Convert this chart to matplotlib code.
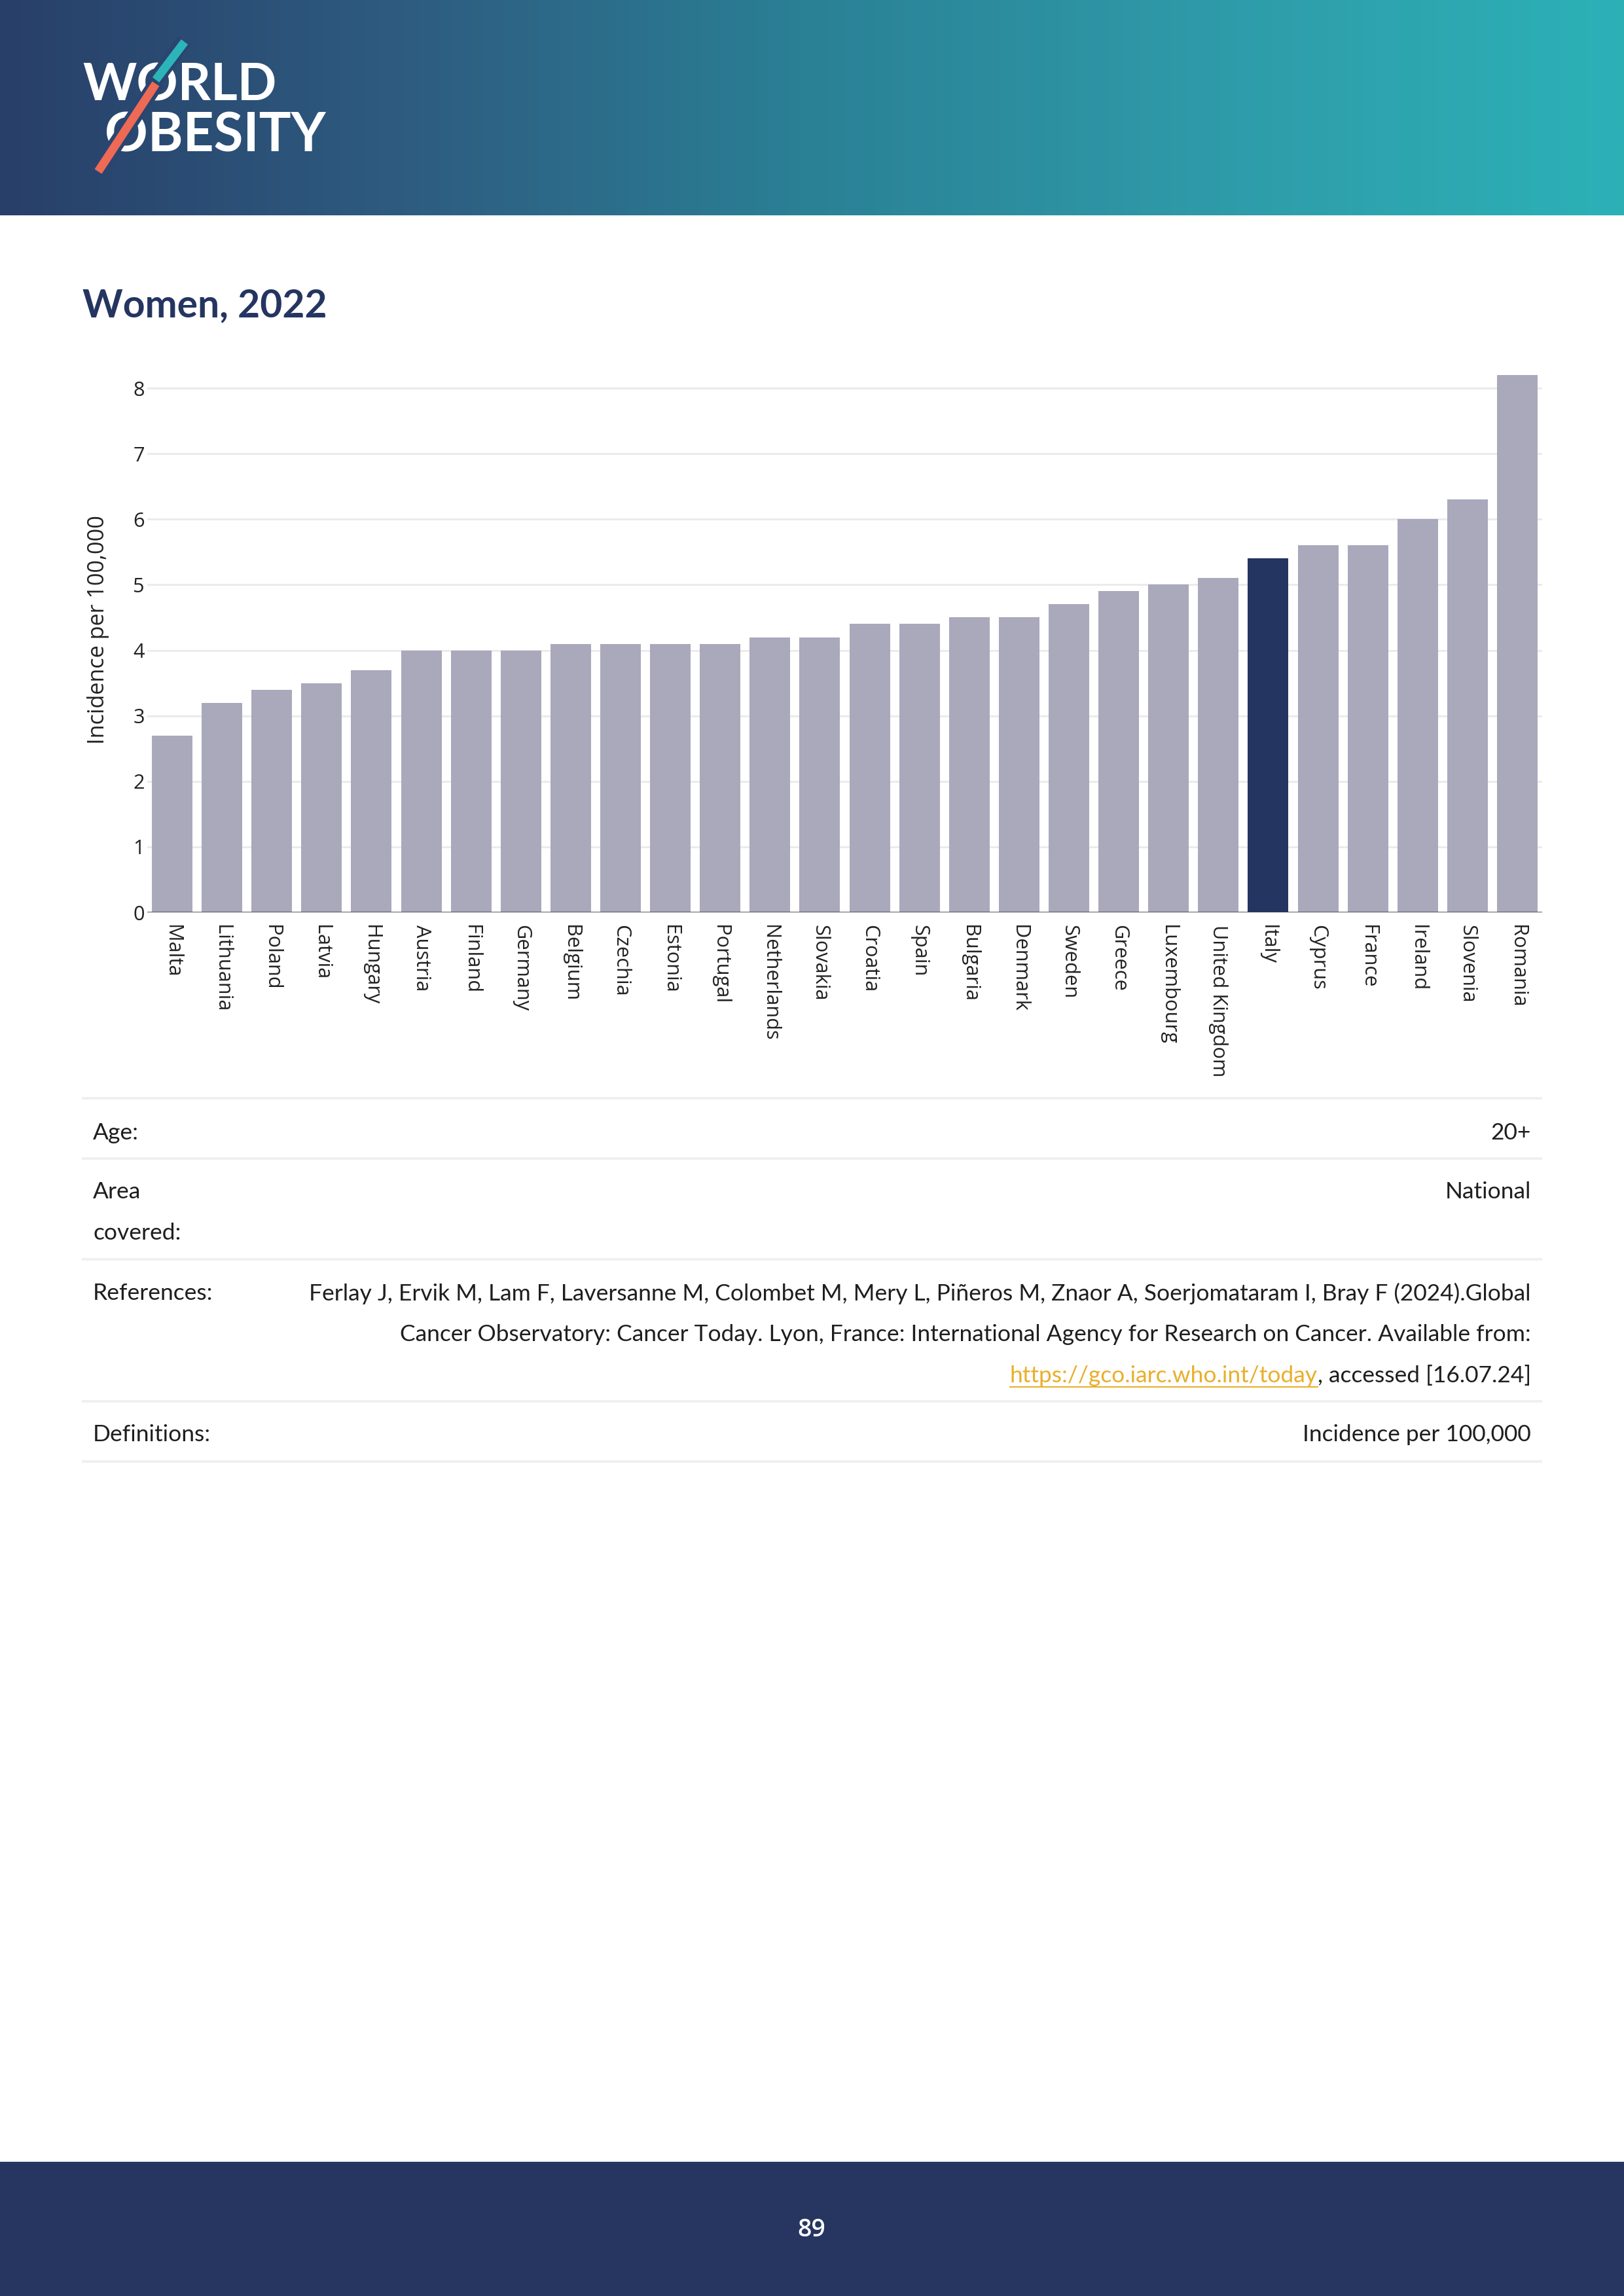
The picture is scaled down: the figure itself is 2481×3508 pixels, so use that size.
import numpy as np
import matplotlib.pyplot as plt
from matplotlib.colors import to_rgb
from matplotlib.patches import Rectangle

# data
countries = ['Malta', 'Lithuania', 'Poland', 'Latvia', 'Hungary', 'Austria', 'Finland',
             'Germany', 'Belgium', 'Czechia', 'Estonia', 'Portugal', 'Netherlands',
             'Slovakia', 'Croatia', 'Spain', 'Bulgaria', 'Denmark', 'Sweden', 'Greece',
             'Luxembourg', 'United Kingdom', 'Italy', 'Cyprus', 'France', 'Ireland',
             'Slovenia', 'Romania']
incidence = [2.7, 3.2, 3.4, 3.5, 3.7, 4.0, 4.0, 4.0, 4.1, 4.1, 4.1, 4.1, 4.2, 4.2,
             4.4, 4.4, 4.5, 4.5, 4.7, 4.9, 5.0, 5.1, 5.4, 5.6, 5.6, 6.0, 6.3, 8.2]
highlight = 'Italy'
y_ticks = [0, 1, 2, 3, 4, 5, 6, 7, 8]

title = 'Women, 2022'
y_title = 'Incidence per 100,000'
page_number = '89'
ref_lines = [
    'Ferlay J, Ervik M, Lam F, Laversanne M, Colombet M, Mery L, Piñeros M, Znaor A, Soerjomataram I, Bray F (2024).Global',
    'Cancer Observatory: Cancer Today. Lyon, France: International Agency for Research on Cancer. Available from:',
]
ref_link = 'https://gco.iarc.who.int/today'
ref_tail = ', accessed [16.07.24]'

W, H = 2481, 3508
DPI = 300
PX = 72 / DPI  # one pixel in points

plt.rcParams['font.family'] = ['Open Sans', 'DejaVu Sans']

fig = plt.figure(figsize=(W / DPI, H / DPI), dpi=DPI)

# page layer in pixel coordinates
page = fig.add_axes([0, 0, 1, 1])
page.set_xlim(0, W)
page.set_ylim(H, 0)
page.axis('off')

# header gradient
stops = [0.0, 0.25, 0.5, 0.75, 1.0]
stop_cols = ['#283f69', '#2e5c80', '#2a8196', '#2f9ba9', '#2cb1b7']
t = np.linspace(0, 1, 600)
rgb = np.array([to_rgb(c) for c in stop_cols])
grad = np.stack([np.interp(t, stops, rgb[:, k]) for k in range(3)], axis=-1)[None, :, :]
page.imshow(grad, extent=[0, W, 329, 0], aspect='auto', interpolation='bilinear', zorder=0)

# logo
logo_font = ['Lato', 'DejaVu Sans']
page.text(126, 153, 'WORLD', color='white', fontsize=18.8, fontweight='bold',
          family=logo_font, va='baseline', ha='left', zorder=2)
page.text(160, 232, 'OBESITY', color='white', fontsize=19.6, fontweight='bold',
          family=logo_font, va='baseline', ha='left', zorder=2)
gap_col = '#2a4570'
page.plot([282, 236], [62, 124], color=gap_col, lw=24 * PX, solid_capstyle='butt', zorder=3)
page.plot([240, 148], [126, 264], color=gap_col, lw=24 * PX, solid_capstyle='butt', zorder=3)
page.plot([282, 238], [64, 122], color='#2bb5b8', lw=13 * PX, solid_capstyle='butt', zorder=4)
page.plot([238, 150], [128, 262], color='#ee6a55', lw=13 * PX, solid_capstyle='butt', zorder=4)

# title
page_font = ['Lato', 'DejaVu Sans']
page.text(126, 484, title, color='#253561', fontsize=14.1, fontweight='bold',
          family=page_font, va='baseline', ha='left')

# footer
page.add_patch(Rectangle((0, 3305), W, H - 3305, color='#263660', zorder=1))
page.text(1240, 3407, page_number, color='white', fontsize=9, fontweight='semibold',
          ha='center', va='center', zorder=2)

# info table
for yl in [1678, 1770, 1924, 2141, 2233]:
    page.plot([125, 2356], [yl, yl], color='#eef0f3', lw=4 * PX, solid_capstyle='butt')

txt_col = '#1e1e1e'
fs_tab = 8.5
left_items = [(1731, 'Age:'), (1821, 'Area'), (1884, 'covered:'),
              (1976, 'References:'), (2192, 'Definitions:')]
for yy, s in left_items:
    page.text(142, yy, s, color=txt_col, fontsize=fs_tab, family=page_font, ha='left', va='center')
right_items = [(1731, '20+'), (1821, 'National'), (1976, ref_lines[0]),
               (2039, ref_lines[1]), (2192, 'Incidence per 100,000')]
for yy, s in right_items:
    page.text(2339, yy, s, color=txt_col, fontsize=fs_tab, family=page_font, ha='right', va='center')
tail = page.text(2339, 2102, ref_tail, color=txt_col, fontsize=fs_tab, family=page_font,
                 ha='right', va='center')

# chart
ax = fig.add_axes([225 / W, 1 - 1394 / H, 2131 / W, (1394 - 530) / H])
x = np.arange(len(countries))
bar_cols = ['#253561' if c == highlight else '#aaa8bb' for c in countries]
ax.bar(x, incidence, width=0.815, color=bar_cols, zorder=2)
ax.set_xlim(-0.5, len(countries) - 0.5)
ax.set_ylim(0, 8.63)
ax.set_yticks(y_ticks)
ax.set_xticks(x)
ax.set_xticklabels(countries, rotation=-90, ha='center', va='top')
ax.yaxis.grid(True, color='#ebebeb', lw=3 * PX, zorder=1)
ax.set_axisbelow(True)
for sp in ax.spines.values():
    sp.set_visible(False)
ax.axhline(0, color='#444444', lw=2.7 * PX, zorder=3)
ax.tick_params(axis='both', length=0, labelsize=7.4, colors='#222222')
ax.tick_params(axis='y', pad=1)
ax.tick_params(axis='x', pad=4.5)
ax.patch.set_alpha(0)
page.text(150, 962, y_title, rotation=90, fontsize=8.2, color='#222222', ha='center', va='center')

# link placed just left of the tail text
fig.canvas.draw()
bb = tail.get_window_extent()
inv = page.transData.inverted()
x_left = inv.transform((bb.x0, bb.y0))[0]
link = page.text(x_left, 2102, ref_link, color='#e9af2b', fontsize=fs_tab, family=page_font,
                 ha='right', va='center')
fig.canvas.draw()
lb = link.get_window_extent()
lx0 = inv.transform((lb.x0, lb.y0))[0]
page.plot([lx0, x_left], [2119, 2119], color='#e9af2b', lw=2 * PX)

fig.savefig('out.png', dpi=DPI)
